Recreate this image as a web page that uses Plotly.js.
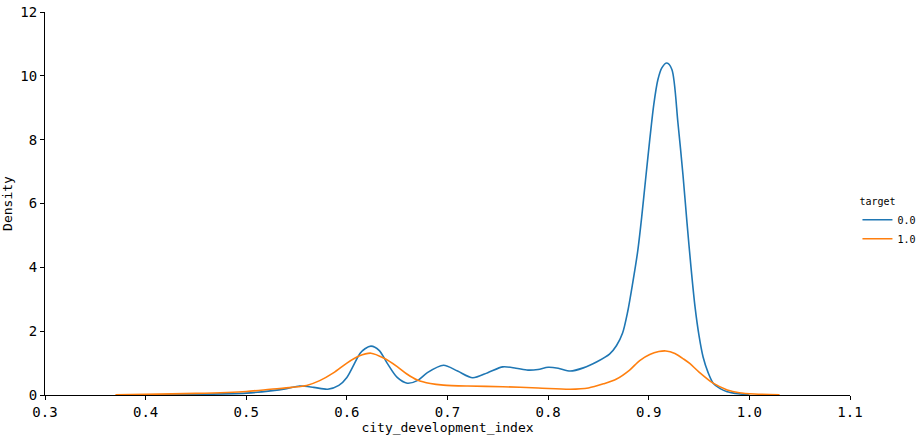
<!DOCTYPE html>
<html>
<head>
<meta charset="utf-8">
<script src="https://cdn.plot.ly/plotly-3.0.1.min.js"></script>
<style>html,body{margin:0;padding:0;background:#fff;}#chart{width:922px;height:437px;}</style>
</head>
<body>
<div id="chart"></div>
<script>
// target = 0.0 density curve
const x0 = [0.40,0.45,0.50,0.524,0.54,0.553,0.567,0.581,0.592,0.60,0.613,0.618,0.624,0.632,0.64,0.65,0.66,0.67,0.68,0.696,0.71,0.725,0.74,0.755,0.768,0.78,0.79,0.80,0.81,0.822,0.835,0.849,0.861,0.868,0.874,0.879,0.884,0.889,0.893,0.897,0.901,0.905,0.909,0.913,0.918,0.923,0.929,0.934,0.938,0.942,0.946,0.950,0.954,0.959,0.964,0.971,0.978,0.986,0.994,1.0];
const y0 = [0.0,0.02,0.06,0.13,0.2,0.28,0.24,0.18,0.3,0.55,1.3,1.45,1.53,1.4,1.0,0.55,0.37,0.45,0.7,0.93,0.75,0.54,0.7,0.88,0.84,0.78,0.8,0.87,0.84,0.75,0.85,1.05,1.28,1.55,1.94,2.6,3.5,4.5,5.58,6.8,8.0,9.1,9.87,10.25,10.4,10.2,8.53,6.9,5.4,4.0,2.76,1.85,1.19,0.7,0.37,0.2,0.1,0.05,0.02,0.0];
// target = 1.0 density curve
const x1 = [0.37,0.40,0.45,0.50,0.524,0.545,0.56,0.573,0.587,0.60,0.612,0.624,0.637,0.65,0.66,0.67,0.683,0.696,0.72,0.755,0.79,0.822,0.84,0.855,0.868,0.881,0.891,0.901,0.91,0.917,0.926,0.935,0.941,0.95,0.964,0.978,0.99,1.005,1.03];
const y1 = [0.01,0.02,0.05,0.11,0.18,0.24,0.3,0.45,0.7,1.0,1.22,1.31,1.15,0.89,0.65,0.47,0.36,0.31,0.28,0.26,0.22,0.18,0.22,0.35,0.5,0.78,1.08,1.27,1.36,1.38,1.3,1.12,0.98,0.72,0.37,0.16,0.07,0.03,0.01];
const seriesNames = ["0.0","1.0"];
const xTickVals = [0.3,0.4,0.5,0.6,0.7,0.8,0.9,1.0,1.1];
const xTickText = ["0.3","0.4","0.5","0.6","0.7","0.8","0.9","1.0","1.1"];
const yTickVals = [0,2,4,6,8,10,12];

const font = "DejaVu Sans Mono, monospace";
const traces = [
  {x:x0, y:y0, name:seriesNames[0], mode:"lines", line:{color:"#1f77b4", width:1.6, shape:"spline", smoothing:0.8}},
  {x:x1, y:y1, name:seriesNames[1], mode:"lines", line:{color:"#ff7f0e", width:1.6, shape:"spline", smoothing:0.8}}
];
const layout = {
  width:922, height:437,
  margin:{l:45, r:72, t:12, b:42},
  paper_bgcolor:"#fff", plot_bgcolor:"#fff",
  font:{family:font, color:"#000"},
  xaxis:{range:[0.3,1.1], tickvals:xTickVals, ticktext:xTickText, showgrid:false, zeroline:false,
    showline:true, linecolor:"#000", linewidth:1, ticks:"outside", ticklen:4, tickcolor:"#000",
    tickfont:{size:14, family:font}, title:{text:"city_development_index", font:{size:13, family:font}, standoff:4}},
  yaxis:{range:[0,12], tickvals:yTickVals, showgrid:false, zeroline:false,
    showline:true, linecolor:"#000", linewidth:1, ticks:"outside", ticklen:4, tickcolor:"#000",
    tickfont:{size:14, family:font}, title:{text:"Density", font:{size:13, family:font}, standoff:8}},
  showlegend:true,
  legend:{xref:"container", yref:"container", x:0.93, y:0.56, xanchor:"left", yanchor:"top",
    font:{size:10, family:font}, itemwidth:30,
    title:{text:"target", font:{size:10, family:font}, side:"top"}, bgcolor:"rgba(0,0,0,0)", tracegroupgap:0}
};
Plotly.newPlot("chart", traces, layout, {displayModeBar:false, staticPlot:true});
</script>
</body>
</html>
